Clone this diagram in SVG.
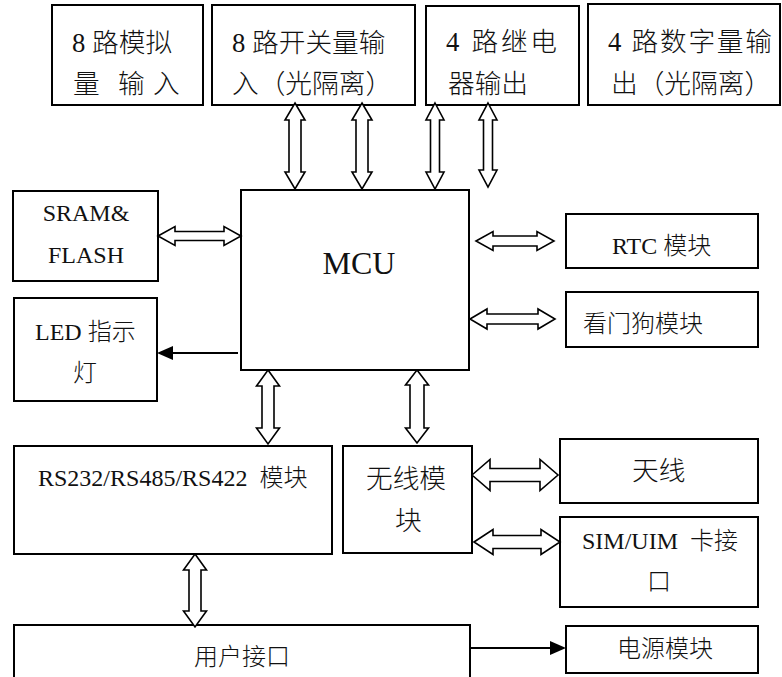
<svg xmlns="http://www.w3.org/2000/svg" width="782" height="677" viewBox="0 0 782 677">
<style>
.box{fill:#fff;stroke:#000;stroke-width:2}
.t{font-family:"Liberation Serif","Noto Sans CJK SC",serif;fill:#111;font-size:24px;font-weight:300}
.big{font-size:26.7px}
.mcu{font-size:32px}
.l{font-family:"Liberation Serif",serif}
.dbl{fill:#fff;stroke:#000;stroke-width:1.6;stroke-linejoin:miter}
.ln{stroke:#000;stroke-width:2;fill:none}
.head{fill:#000}
</style>
<rect width="782" height="677" fill="#fff"/>
<g id="n-analog"><rect class="box" x="52" y="5" width="151" height="100"/>
<text class="t big" x="72" y="52"><tspan class="l">8</tspan> 路模拟</text>
<text class="t big" y="93"><tspan x="73">量</tspan><tspan x="118">输</tspan><tspan x="153">入</tspan></text></g>
<g id="n-switch"><rect class="box" x="212" y="5" width="203" height="100"/>
<text class="t big" x="232" y="52"><tspan class="l">8</tspan> 路开关量输</text>
<text class="t big" x="232" y="93">入（光隔离）</text></g>
<g id="n-relay"><rect class="box" x="426" y="6" width="153" height="99"/>
<text class="t big" x="446" y="51" textLength="111" lengthAdjust="spacing"><tspan class="l">4</tspan> 路继电</text>
<text class="t big" x="448" y="93">器输出</text></g>
<g id="n-digital"><rect class="box" x="588" y="4" width="192" height="101"/>
<text class="t big" x="608" y="51" textLength="164" lengthAdjust="spacing"><tspan class="l">4</tspan> 路数字量输</text>
<text class="t big" x="611" y="93">出（光隔离）</text></g>
<g id="n-mcu"><rect class="box" x="241" y="190" width="228" height="180"/>
<text class="t mcu l" x="359" y="274" text-anchor="middle">MCU</text></g>
<g id="n-sram"><rect class="box" x="13" y="191" width="145" height="90"/>
<text class="t" x="86" y="221" text-anchor="middle">SRAM&amp;</text>
<text class="t" x="86" y="263" text-anchor="middle">FLASH</text></g>
<g id="n-led"><rect class="box" x="14" y="298" width="143" height="103"/>
<text class="t" x="35" y="340">LED 指示</text>
<text class="t" x="85" y="381" text-anchor="middle">灯</text></g>
<g id="n-rtc"><rect class="box" x="566" y="214" width="192" height="54"/>
<text class="t" x="612" y="254">RTC 模块</text></g>
<g id="n-wdg"><rect class="box" x="566" y="292" width="192" height="55"/>
<text class="t" x="583" y="332">看门狗模块</text></g>
<g id="n-rs"><rect class="box" x="14" y="446" width="318" height="108"/>
<text class="t" x="38" y="486" xml:space="preserve">RS232/RS485/RS422  模块</text></g>
<g id="n-wireless"><rect class="box" x="343" y="446" width="129" height="107"/>
<text class="t big" x="366" y="488">无线模</text>
<text class="t big" x="395" y="530">块</text></g>
<g id="n-antenna"><rect class="box" x="560" y="439" width="198" height="64"/>
<text class="t big" x="632" y="480">天线</text></g>
<g id="n-sim"><rect class="box" x="560" y="517" width="198" height="90"/>
<text class="t" x="582" y="549" xml:space="preserve">SIM/UIM  卡接</text>
<text class="t" x="659" y="590" text-anchor="middle">口</text></g>
<g id="n-power"><rect class="box" x="566" y="626" width="192" height="47"/>
<text class="t" x="617" y="657">电源模块</text></g>
<g id="n-user"><rect class="box" x="14" y="625" width="456" height="60"/>
<text class="t" x="194" y="665">用户接口</text></g>
<g id="connectors">
<path class="dbl" d="M295,103 L305,120 L301,120 L301,172 L305,172 L295,189 L285,172 L289,172 L289,120 L285,120 Z"/>
<path class="dbl" d="M362,103 L372,120 L368,120 L368,172 L372,172 L362,189 L352,172 L356,172 L356,120 L352,120 Z"/>
<path class="dbl" d="M435,103 L444,120 L439.5,120 L439.5,172 L444,172 L435,189 L426,172 L430.5,172 L430.5,120 L426,120 Z"/>
<path class="dbl" d="M488,103 L497,120 L492.5,120 L492.5,170 L497,170 L488,187 L479,170 L483.5,170 L483.5,120 L479,120 Z"/>
<path class="dbl" d="M158,236 L175,226.5 L175,231.5 L224,231.5 L224,226.5 L241,236 L224,245.5 L224,240.5 L175,240.5 L175,245.5 Z"/>
<path class="dbl" d="M476,241 L493,231.5 L493,236 L537,236 L537,231.5 L554,241 L537,250.5 L537,246 L493,246 L493,250.5 Z"/>
<path class="dbl" d="M470,319 L487,309 L487,314 L538,314 L538,309 L555,319 L538,329 L538,324 L487,324 L487,329 Z"/>
<line class="ln" x1="238" y1="353" x2="170" y2="353"/>
<path class="head" d="M157,353 L173,346 L173,360 Z"/>
<path class="dbl" d="M268,370 L279.5,386 L274,386 L274,428 L279.5,428 L268,444 L256.5,428 L262,428 L262,386 L256.5,386 Z"/>
<path class="dbl" d="M417,370 L428.5,385 L424,385 L424,428 L428.5,428 L417,443 L405.5,428 L410,428 L410,385 L405.5,385 Z"/>
<path class="dbl" d="M472,475 L490,459.5 L490,468.5 L540,468.5 L540,459.5 L558,475 L540,490.5 L540,481.5 L490,481.5 L490,490.5 Z"/>
<path class="dbl" d="M474,542 L493,529.5 L493,535.5 L541,535.5 L541,529.5 L560,542 L541,554.5 L541,548.5 L493,548.5 L493,554.5 Z"/>
<path class="dbl" d="M195,554 L206.5,570 L201,570 L201,611 L206.5,611 L195,627 L183.5,611 L189,611 L189,570 L183.5,570 Z"/>
<line class="ln" x1="470" y1="648" x2="552" y2="648"/>
<path class="head" d="M566,648 L550,641 L550,655 Z"/>
</g>
</svg>
